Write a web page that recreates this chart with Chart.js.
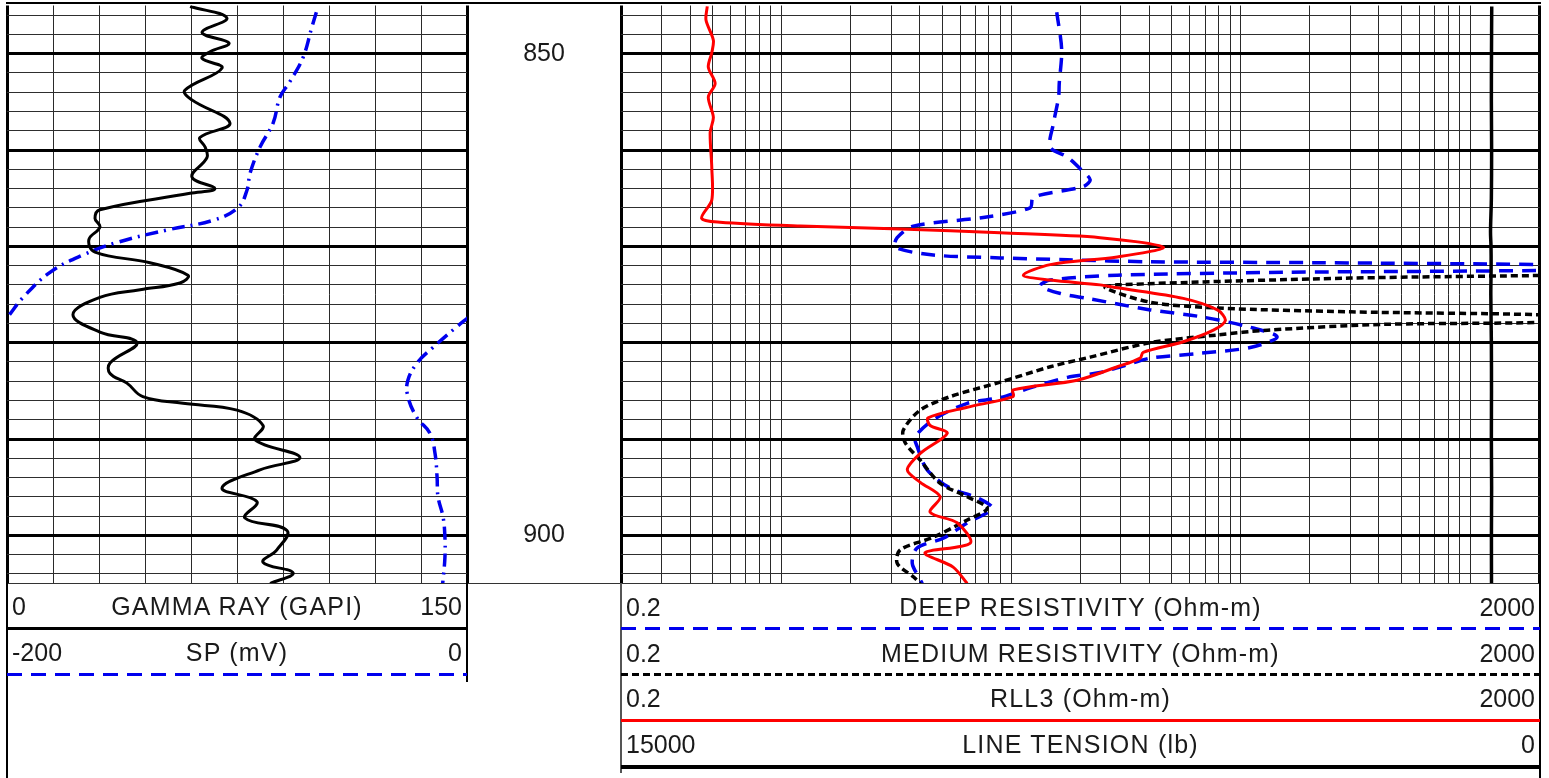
<!DOCTYPE html>
<html lang="en">
<head>
<meta charset="UTF-8">
<title>Well Log 845-905 ft</title>
<style>
    body {
        margin: 0;
        background: #fff;
        font-family: 'Liberation Sans', Arial, sans-serif;
        color: #1a1a1a;
    }
    #page { position: relative; width: 1549px; height: 778px; overflow: hidden; }
    canvas { position: absolute; top: 0; }
    .line { position: absolute; background: #000; }
    .dash-blue { background: repeating-linear-gradient(to right, #0000ee 0 15px, transparent 15px 24px); }
    .dash-black { background: repeating-linear-gradient(to right, #000 0 7px, transparent 7px 11px); }
    .row {
        position: absolute;
        display: grid;
        grid-template-columns: 1fr auto 1fr;
        height: 30px;
        line-height: 30px;
        font-size: 25px;
        padding: 0 5px;
        box-sizing: border-box;
        white-space: nowrap;
    }
    .row span:first-child { text-align: left; }
    .row span:nth-child(2) { letter-spacing: 1.2px; }
    .row span:last-child { text-align: right; }
</style>
</head>
<body>
<div id="page">
    <canvas id="leftTrack" width="470" height="590" style="left:0"></canvas>
    <canvas id="depthTrack" width="148" height="590" style="left:470px"></canvas>
    <canvas id="rightTrack" width="935" height="590" style="left:614px"></canvas>

    <!-- frame lines -->
    <div class="line" style="left:6px;top:2px;width:1535px;height:2px"></div>
    <div class="line" style="left:6px;top:583px;width:1535px;height:1px;background:#333"></div>

    <!-- left header -->
    <div class="line" style="left:6px;top:583px;width:2px;height:195px"></div>
    <div class="line" style="left:466px;top:583px;width:2px;height:99px"></div>
    <div class="row" style="left:7px;top:591px;width:460px"><span>0</span><span>GAMMA RAY (GAPI)</span><span>150</span></div>
    <div class="line" style="left:7px;top:627px;width:460px;height:3px"></div>
    <div class="row" style="left:7px;top:637px;width:460px"><span>-200</span><span>SP (mV)</span><span>0</span></div>
    <div class="line dash-blue" style="left:7px;top:673px;width:460px;height:3px"></div>

    <!-- right header -->
    <div class="line" style="left:620px;top:583px;width:1.5px;height:190px;background:#555"></div>
    <div class="line" style="left:1538.5px;top:583px;width:2.5px;height:195px"></div>
    <div class="row" style="left:621px;top:591.5px;width:919px"><span>0.2</span><span>DEEP RESISTIVITY (Ohm-m)</span><span>2000</span></div>
    <div class="line dash-blue" style="left:621px;top:627px;width:919px;height:3px"></div>
    <div class="row" style="left:621px;top:638px;width:919px"><span>0.2</span><span>MEDIUM RESISTIVITY (Ohm-m)</span><span>2000</span></div>
    <div class="line dash-black" style="left:621px;top:673px;width:919px;height:3px"></div>
    <div class="row" style="left:621px;top:683px;width:919px"><span>0.2</span><span>RLL3 (Ohm-m)</span><span>2000</span></div>
    <div class="line" style="left:621px;top:719px;width:919px;height:3px;background:#f00"></div>
    <div class="row" style="left:621px;top:729px;width:919px"><span>15000</span><span>LINE TENSION (lb)</span><span>0</span></div>
    <div class="line" style="left:621px;top:765px;width:919px;height:3.5px"></div>
</div>
<script src="https://cdn.jsdelivr.net/npm/chart.js"></script>
<script>
// depth grid (ft) and tick values
const depthGrid = [846, 848, 850, 852, 854, 856, 858, 860, 862, 864, 866, 868, 870, 872, 874,
                   876, 878, 880, 882, 884, 886, 888, 890, 892, 894, 896, 898, 900, 902, 904];
const depthLabels = [850, 900];
const grTicks = [0, 15, 30, 45, 60, 75, 90, 105, 120, 135, 150];
const resTicks = [0.2, 0.3, 0.4, 0.5, 0.6, 0.7, 0.8, 0.9, 1, 2, 3, 4, 5, 6, 7, 8, 9,
                  10, 20, 30, 40, 50, 60, 70, 80, 90, 100, 200, 300, 400, 500, 600, 700, 800, 900, 1000, 2000];

// gamma ray (GAPI)
const grDepth = [845.1, 846.3, 847.8, 848.9, 849.8, 850.5, 851.5, 853.8, 854.8, 857.2, 858.7, 859.7, 860.8, 862.8, 864.0, 864.5,
                 866.2, 867.1, 868.0, 869.3, 870.6, 871.7, 873.0, 873.8, 874.5, 875.3, 877.1, 878.9, 880.0, 882.1, 883.2, 884.2,
                 885.6, 886.3, 887.0, 888.6, 890.1, 891.9, 893.2, 895.1, 896.5, 898.2, 899.5, 901.5, 902.8, 903.9, 905.0];
const grValue = [59.7, 71.7, 63.6, 72.4, 66.2, 63.6, 70.1, 58.0, 60.3, 72.7, 62.9, 64.6, 65.2, 60.3, 67.8, 59.7,
                 30.3, 28.7, 30.3, 26.7, 28.7, 46.6, 59.0, 56.4, 43.4, 30.3, 21.5, 30.3, 42.4, 33.6, 33.6, 39.1,
                 44.3, 57.4, 75.0, 83.5, 80.9, 95.5, 82.5, 70.1, 81.5, 77.6, 91.3, 88.0, 83.5, 93.3, 85.8];

// SP (mV), main trace and wrapped trace
const spDepth = [845.7, 847.2, 850.4, 852.9, 854.5, 857.2, 859.7, 862.4, 864.2, 866.0, 867.3, 868.3, 869.6, 870.9, 872.7, 875.3, 877.3, 877.5];
const spValue = [-65.5, -67.4, -71.3, -77.0, -81.3, -84.3, -90.0, -94.3, -95.7, -99.6, -110.4, -130.4, -152.2, -167.0, -181.3, -193.0, -199.6, -200.5];
const spWrapDepth = [877.4, 878.5, 880.5, 882.0, 883.9, 885.6, 887.8, 889.4, 891.5, 894.0, 896.0, 898.1, 900.2, 902.3, 904.6, 905.0];
const spWrapValue = [0.5, -5.2, -14.8, -21.3, -25.7, -25.7, -21.7, -16.1, -13.9, -13.0, -12.6, -10.4, -9.6, -9.6, -10.4, -10.6];

// deep resistivity (ohm-m)
const deepDepth = [845.7, 849.6, 853.1, 854.5, 857.2, 859.7, 860.7, 862.1, 863.1, 863.8, 864.9, 866.0, 867.0, 867.9, 869.1, 870.1,
                   870.9, 871.2, 871.4, 871.6, 871.7, 871.9, 872.2, 872.5, 872.7, 873.0, 873.5, 874.1, 874.9, 875.4, 876.6, 877.3,
                   878.4, 879.4, 880.5, 881.1, 881.6, 882.1, 883.1, 883.6, 884.7, 885.7, 886.3, 888.0, 889.8, 890.8, 893.2, 895.1,
                   896.1, 897.2, 898.7, 900.3, 901.3, 902.9, 904.6, 905.0];
const deepValue = [15.8, 16.6, 16.2, 16.1, 15.3, 14.8, 17.5, 20.3, 22.1, 20.6, 12.5, 12.1, 7.56, 3.75, 3.19, 3.13,
                   4.58, 8.96, 17.6, 40.4, 216, 2000, 5000, 2000, 153, 29.0, 14.8, 13.4, 16.4, 21.5, 40.4, 66.7,
                   110, 144, 110, 66.7, 40.4, 34.0, 24.4, 17.6, 12.1, 8.96, 6.44, 4.58, 3.82, 3.90, 4.31, 5.43,
                   7.12, 8.27, 6.44, 5.06, 3.90, 3.71, 4.02, 4.1];

// medium resistivity (ohm-m)
const medDepth = [873.0, 873.3, 874.0, 874.3, 875.8, 876.4, 876.8, 877.1, 877.5, 877.9, 878.1, 878.7, 879.2, 880.0, 881.5, 882.5,
                  884.1, 885.6, 887.0, 889.1, 890.4, 892.2, 894.6, 896.0, 897.2, 898.4, 900.2, 901.5, 902.9, 904.3, 905.0];
const medValue = [2500, 300, 29.0, 25.7, 40.4, 79.1, 300, 2000, 3500, 2000, 418, 131, 79.1, 40.4, 22.1, 14.8,
                  8.96, 5.43, 4.02, 3.39, 3.46, 4.02, 4.91, 6.44, 7.87, 6.44, 4.58, 3.29, 3.19, 3.75, 4.02];

// RLL3 (ohm-m)
const rll3Depth = [845.1, 846.5, 848.6, 849.9, 851.4, 853.1, 854.5, 856.6, 858.2, 861.8, 865.2, 867.1, 867.5, 867.9, 868.2, 868.6,
                   869.1, 870.1, 871.1, 871.9, 873.0, 873.5, 874.0, 874.3, 875.4, 876.6, 877.7, 878.7, 879.9, 881.0, 881.6, 882.5,
                   883.9, 884.9, 885.6, 886.7, 887.8, 888.6, 889.4, 891.5, 893.2, 894.5, 896.0, 897.6, 898.7, 900.8, 901.8, 903.3, 905.0];
const rll3Value = [0.475, 0.469, 0.505, 0.497, 0.480, 0.514, 0.480, 0.505, 0.489, 0.497, 0.497, 0.449, 0.540, 1.21, 3.29, 8.96,
                   24.4, 46.0, 29.0, 14.8, 11.3, 14.8, 24.4, 29.0, 56.2, 79.1, 85.7, 76.0, 56.2, 37.6, 36.5, 29.0,
                   19.4, 10.2, 10.2, 6.44, 4.35, 4.44, 5.27, 4.02, 3.53, 4.02, 4.91, 4.44, 5.82, 6.64, 4.22, 5.59, 6.44];

// line tension (lb)
const tensionDepth = [845.1, 850, 855, 860, 865, 868.5, 870, 872, 875, 880, 885, 890, 895, 900, 905];
const tensionValue = [780, 784, 786, 782, 786, 800, 792, 790, 795, 786, 784, 786, 782, 785, 784];

const pts = (depths, values) => depths.map((d, i) => ({ x: values[i], y: d }));

const curve = (data, xAxisID, color, width, dash, tension) => ({
    data, xAxisID, showLine: true, pointRadius: 0,
    borderColor: color, borderWidth: width, borderDash: dash || [], tension: tension
});

const depthAxis = {
    type: 'linear', reverse: true, min: 845, max: 905,
    afterBuildTicks: axis => { axis.ticks = depthGrid.map(v => ({ value: v })); },
    ticks: { display: false },
    border: { display: false },
    grid: {
        drawTicks: false,
        color: c => (c.tick && c.tick.value % 10 === 0) ? '#000' : '#2e2e2e',
        lineWidth: c => (c.tick && c.tick.value % 10 === 0) ? 3 : 1
    }
};

const baseOptions = {
    responsive: false,
    animation: false,
    devicePixelRatio: 1,
    plugins: { legend: { display: false }, tooltip: { enabled: false } }
};

// left track: gamma ray + SP
new Chart(document.getElementById('leftTrack'), {
    type: 'scatter',
    data: {
        datasets: [
            curve(pts(grDepth, grValue), 'x', '#000', 3, null, 0.4),
            curve(pts(spDepth, spValue), 'xSP', '#0000ee', 3.5, [13, 6, 2, 6], 0.4),
            curve(pts(spWrapDepth, spWrapValue), 'xSP', '#0000ee', 3.5, [13, 6, 2, 6], 0.4)
        ]
    },
    options: Object.assign({}, baseOptions, {
        layout: { padding: { left: 7, right: 3, top: 5.5, bottom: 6.5 } },
        scales: {
            x: {
                type: 'linear', min: 0, max: 150, position: 'bottom',
                afterBuildTicks: axis => { axis.ticks = grTicks.map(v => ({ value: v })); },
                ticks: { display: false },
                border: { display: false },
                grid: {
                    drawTicks: false,
                    color: c => (c.index === 0 || c.index === grTicks.length - 1) ? '#000' : '#2a2a2a',
                    lineWidth: c => (c.index === 0 || c.index === grTicks.length - 1) ? 3 : 1
                }
            },
            xSP: { type: 'linear', min: -200, max: 0, display: false },
            y: depthAxis
        }
    })
});

// depth track: depth numbers placed by the depth scale
new Chart(document.getElementById('depthTrack'), {
    type: 'scatter',
    data: { datasets: [] },
    options: Object.assign({}, baseOptions, {
        layout: { padding: { left: 0, right: 0, top: 5.5, bottom: 6.5 } },
        scales: {
            x: { type: 'linear', min: 0, max: 1, display: false },
            y: { type: 'linear', reverse: true, min: 845, max: 905, display: false }
        }
    }),
    plugins: [{
        id: 'depthLabels',
        afterDraw(chart) {
            const ctx = chart.ctx;
            const area = chart.chartArea;
            ctx.save();
            ctx.font = '25px "Liberation Sans", Arial, sans-serif';
            ctx.fillStyle = '#1a1a1a';
            ctx.textAlign = 'center';
            ctx.textBaseline = 'middle';
            depthLabels.forEach(d => {
                ctx.fillText(String(d), (area.left + area.right) / 2, chart.scales.y.getPixelForValue(d));
            });
            ctx.restore();
        }
    }]
});

// right track: resistivities + line tension
new Chart(document.getElementById('rightTrack'), {
    type: 'scatter',
    data: {
        datasets: [
            curve(pts(tensionDepth, tensionValue), 'xTen', '#000', 3.5, null, 0.3),
            curve(pts(rll3Depth, rll3Value), 'x', '#ff0000', 3, null, 0.3),
            curve(pts(medDepth, medValue), 'x', '#000', 3.5, [7, 4], 0.3),
            curve(pts(deepDepth, deepValue), 'x', '#0000ee', 3.5, [14, 9], 0.3)
        ]
    },
    options: Object.assign({}, baseOptions, {
        layout: { padding: { left: 7, right: 9.5, top: 5.5, bottom: 6.5 } },
        scales: {
            x: {
                type: 'logarithmic', min: 0.2, max: 2000, position: 'bottom',
                afterBuildTicks: axis => { axis.ticks = resTicks.map(v => ({ value: v })); },
                ticks: { display: false },
                border: { display: false },
                grid: {
                    drawTicks: false,
                    color: c => (c.index === 0 || c.index === resTicks.length - 1) ? '#000' : '#2a2a2a',
                    lineWidth: c => (c.index === 0 || c.index === resTicks.length - 1) ? 3 : 1
                }
            },
            xTen: { type: 'linear', min: 0, max: 15000, reverse: true, display: false },
            y: depthAxis
        }
    })
});
</script>
</body>
</html>
